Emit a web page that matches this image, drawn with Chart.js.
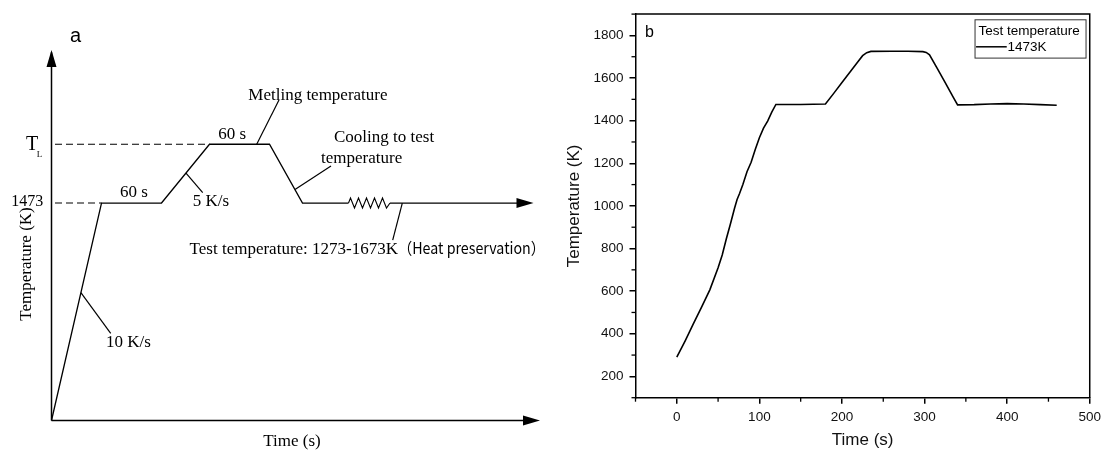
<!DOCTYPE html>
<html><head><meta charset="utf-8">
<script src="https://cdn.jsdelivr.net/npm/chart.js@4.4.0/dist/chart.umd.min.js"></script>
<style>
html,body{margin:0;padding:0;background:#fff;}
body{width:1106px;height:455px;position:relative;overflow:hidden;}
#wa{position:absolute;left:0;top:0;width:556px;height:455px;}
#wb{position:absolute;left:556px;top:0;width:550px;height:455px;}
</style></head><body>
<div id="wa"><canvas id="ca"></canvas></div>
<div id="wb"><canvas id="cb"></canvas></div>
<script>
// ---------- Panel a: schematic profile (nominal time / temperature units) ----------
const schemTime = [0, 50, 110, 158, 218, 251, 297];
const schemTemp = [0, 1473, 1473, 1871, 1871, 1473, 1473];
const springTime = [297, 299, 303, 307, 311, 315, 319, 323, 327, 331, 335, 338.5];
const springTemp = [1473, 1507, 1439, 1507, 1439, 1507, 1439, 1507, 1439, 1507, 1439, 1473];
const holdTime = [338.5, 470];
const holdTemp = [1473, 1473];
const levelTL = 1871;
const level1473 = 1473;

// ---------- Panel b: measured profile ----------
const timeS = [0, 10, 20, 30, 40, 50, 55, 60, 65, 70, 73, 76, 80, 85, 90, 95, 100, 105, 110, 115, 120,
  150, 180, 190, 200, 210, 220, 225, 230, 235, 260, 280, 298, 302, 306, 315, 325, 335, 340,
  360, 380, 400, 420, 440, 460];
const tempK = [290, 366, 446, 525, 606, 710, 770, 846, 916, 990, 1030, 1058, 1100, 1160, 1205, 1265, 1320, 1365, 1398, 1440, 1476,
  1476, 1478, 1528, 1579, 1629, 1680, 1705, 1719, 1725, 1726, 1726, 1724, 1720, 1709, 1648, 1578, 1508, 1474,
  1475, 1478, 1480, 1478, 1475, 1472];
const xMajorTicks = [0, 100, 200, 300, 400, 500];
const xMinorTicks = [-50, 50, 150, 250, 350, 450];
const yMajorTicks = [200, 400, 600, 800, 1000, 1200, 1400, 1600, 1800];
const yMinorTicks = [100, 300, 500, 700, 900, 1100, 1300, 1500, 1700, 1900];
const legendTitle = 'Test temperature';
const seriesLabel = '1473K';

const pts = (xs, ys) => xs.map((x, i) => ({x: x, y: ys[i]}));
const SERIF = '"Liberation Serif", "Times New Roman", serif';
const SANS = '"Liberation Sans", Arial, sans-serif';

// ---------- Panel a chart ----------
const lineDS = (data, extra) => Object.assign({data: data, showLine: true, borderColor: '#000', borderWidth: 1.3,
  pointRadius: 0, pointHoverRadius: 0, fill: false, tension: 0, clip: false}, extra || {});

const arrowsA = [
  {x: 0, y: 2509, dir: 'up'},
  {x: 488.5, y: 0, dir: 'right'},
  {x: 482, y: 1473, dir: 'right'}
];
const leadersA = [
  [29.4, 866, 59.2, 590],
  [134.5, 1676, 151.2, 1543],
  [205.2, 1871, 227.5, 2171],
  [243.5, 1565, 279.5, 1724],
  [350.8, 1473, 341.2, 1222]
];
const textA = [
  {t: 'a', x: 18.5, y: 2563, f: '20px ' + SANS},
  {t: '1473', x: -8.2, y: 1453, align: 'right', mw: 32},
  {t: 'T', x: -25.5, y: 1831, f: '20px ' + SERIF},
  {t: 'L', x: -14.8, y: 1782, f: '9px ' + SERIF},
  {t: '60 s', x: 68.5, y: 1512},
  {t: '60 s', x: 166.8, y: 1906},
  {t: '5 K/s', x: 141.2, y: 1453},
  {t: 'Metling temperature', x: 196.8, y: 2171},
  {t: 'Cooling to test', x: 282.5, y: 1888},
  {t: 'temperature', x: 269.5, y: 1742},
  {t: 'Test temperature: 1273-1673K', x: 346.5, y: 1126, align: 'right'},
  {t: '（Heat preservation）', x: 346.5, y: 1126, f: '16px "Noto Sans CJK SC", sans-serif', mw: 147},
  {t: '10 K/s', x: 54.5, y: 500},
  {t: 'Time (s)', x: 240.5, y: -173, align: 'center'},
  {t: 'Temperature (K)', x: -20.5, y: 1060, align: 'center', rot: true}
];

const schemDeco = {
  id: 'schemDeco',
  afterDatasetsDraw(chart) {
    const ctx = chart.ctx, sx = chart.scales.x, sy = chart.scales.y;
    const X = v => sx.getPixelForValue(v), Y = v => sy.getPixelForValue(v);
    ctx.save();
    ctx.fillStyle = '#000';
    ctx.strokeStyle = '#000';
    arrowsA.forEach(a => {
      const px = X(a.x), py = Y(a.y);
      ctx.beginPath();
      if (a.dir === 'up') {
        ctx.moveTo(px, py); ctx.lineTo(px - 5, py + 17); ctx.lineTo(px + 5, py + 17);
      } else {
        ctx.moveTo(px, py); ctx.lineTo(px - 17, py - 5); ctx.lineTo(px - 17, py + 5);
      }
      ctx.closePath(); ctx.fill();
    });
    ctx.lineWidth = 1.2;
    leadersA.forEach(l => {
      ctx.beginPath(); ctx.moveTo(X(l[0]), Y(l[1])); ctx.lineTo(X(l[2]), Y(l[3])); ctx.stroke();
    });
    textA.forEach(t => {
      ctx.font = t.f || ('17px ' + SERIF);
      ctx.textAlign = t.align || 'left';
      ctx.textBaseline = 'alphabetic';
      const px = X(t.x), py = Y(t.y);
      if (t.rot) {
        ctx.save(); ctx.translate(px, py); ctx.rotate(-Math.PI / 2);
        ctx.fillText(t.t, 0, 0); ctx.restore();
      } else if (t.mw) {
        ctx.fillText(t.t, px, py, t.mw);
      } else {
        ctx.fillText(t.t, px, py);
      }
    });
    ctx.restore();
  }
};

new Chart(document.getElementById('ca'), {
  type: 'scatter',
  data: {datasets: [
    lineDS(pts([0, 0], [0, 2495]), {borderWidth: 1.5}),
    lineDS(pts([0, 480], [0, 0]), {borderWidth: 1.5}),
    lineDS(pts(schemTime, schemTemp)),
    lineDS(pts(springTime, springTemp), {borderWidth: 1.1}),
    lineDS(pts(holdTime, holdTemp)),
    lineDS(pts([3.5, 158], [levelTL, levelTL]), {borderDash: [7, 4], borderWidth: 1.1}),
    lineDS(pts([3.5, 50], [level1473, level1473]), {borderDash: [7, 4], borderWidth: 1.1})
  ]},
  options: {
    responsive: true, maintainAspectRatio: false, animation: false,
    layout: {padding: {left: 51.5, right: 4.5, top: 51.4, bottom: 34.5}},
    plugins: {legend: {display: false}, tooltip: {enabled: false}},
    scales: {
      x: {type: 'linear', display: false, min: 0, max: 500},
      y: {type: 'linear', display: false, min: 0, max: 2500}
    }
  },
  plugins: [schemDeco]
});

// ---------- Panel b chart ----------
const frameB = {
  id: 'frameB',
  afterDraw(chart) {
    const ctx = chart.ctx, a = chart.chartArea, sx = chart.scales.x, sy = chart.scales.y;
    ctx.save();
    ctx.strokeStyle = '#000';
    ctx.lineWidth = 1.5;
    ctx.beginPath();
    ctx.moveTo(a.left, a.top); ctx.lineTo(a.right, a.top); ctx.lineTo(a.right, a.bottom);
    ctx.stroke();
    ctx.lineWidth = 1.3;
    xMinorTicks.forEach(v => {
      const p = sx.getPixelForValue(v);
      ctx.beginPath(); ctx.moveTo(p, a.bottom); ctx.lineTo(p, a.bottom + 4); ctx.stroke();
    });
    yMinorTicks.forEach(v => {
      const p = sy.getPixelForValue(v);
      ctx.beginPath(); ctx.moveTo(a.left - 4, p); ctx.lineTo(a.left, p); ctx.stroke();
    });
    // legend
    const bx = a.right - 114.7, by = a.top + 5.7, bw = 111, bh = 38.3;
    ctx.lineWidth = 1;
    ctx.strokeStyle = '#333';
    ctx.strokeRect(bx, by, bw, bh);
    ctx.fillStyle = '#000';
    ctx.font = '13.5px ' + SANS;
    ctx.textAlign = 'left'; ctx.textBaseline = 'alphabetic';
    ctx.fillText(legendTitle, bx + 3.4, by + 15);
    ctx.strokeStyle = '#000'; ctx.lineWidth = 1.5;
    ctx.beginPath(); ctx.moveTo(bx + 1, by + 27); ctx.lineTo(bx + 31.7, by + 27); ctx.stroke();
    ctx.fillText(chart.data.datasets[0].label, bx + 32.4, by + 31.6);
    // panel label
    ctx.font = '16px ' + SANS;
    ctx.fillText('b', a.left + 9.5, a.top + 23.3);
    ctx.restore();
  }
};

new Chart(document.getElementById('cb'), {
  type: 'line',
  data: {datasets: [{
    label: seriesLabel,
    data: pts(timeS, tempK),
    borderColor: '#000', borderWidth: 1.6, pointRadius: 0, pointHoverRadius: 0, fill: false, tension: 0
  }]},
  options: {
    responsive: true, maintainAspectRatio: false, animation: false,
    layout: {padding: {left: 4, top: 10, right: 13, bottom: 0}},
    plugins: {legend: {display: false}, tooltip: {enabled: false}},
    scales: {
      x: {
        type: 'linear', min: -50, max: 500,
        afterBuildTicks: s => { s.ticks = xMajorTicks.map(v => ({value: v})); },
        afterFit: s => { s.height = 57.3; },
        grid: {display: true, drawOnChartArea: false, drawTicks: true, tickLength: 6, color: '#000', lineWidth: 1.5},
        border: {display: true, color: '#000', width: 1.5},
        ticks: {color: '#111', font: {family: 'Liberation Sans', size: 13.5}, padding: 5, maxRotation: 0, autoSkip: false,
          callback: v => String(v)},
        title: {display: true, text: 'Time (s)', color: '#111', font: {family: 'Liberation Sans', size: 17}, padding: {top: 4, bottom: 4}}
      },
      y: {
        type: 'linear', min: 100, max: 1900,
        afterBuildTicks: s => { s.ticks = yMajorTicks.map(v => ({value: v})); },
        afterFit: s => { s.width = 75.5; },
        grid: {display: true, drawOnChartArea: false, drawTicks: true, tickLength: 6, color: '#000', lineWidth: 1.5},
        border: {display: true, color: '#000', width: 1.5},
        ticks: {color: '#111', font: {family: 'Liberation Sans', size: 13.5}, padding: 6, autoSkip: false,
          callback: v => String(v)},
        title: {display: true, text: 'Temperature (K)', color: '#111', font: {family: 'Liberation Sans', size: 17}, padding: {top: 4, bottom: 4}}
      }
    }
  },
  plugins: [frameB]
});
</script>
</body></html>
